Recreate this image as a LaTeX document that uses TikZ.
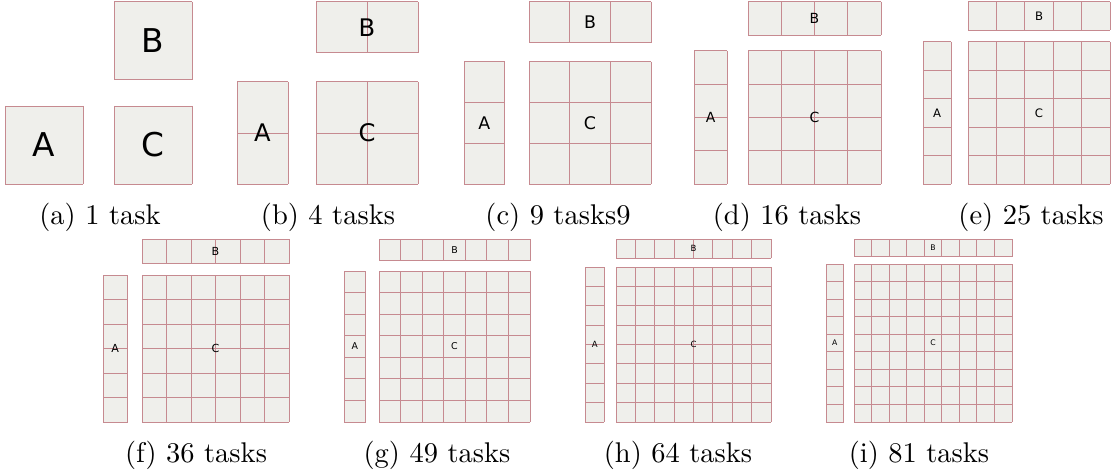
\documentclass[tikz,border=0pt]{standalone}
\usepackage{fontspec}
\newfontfamily\labelfont{DejaVu Sans}
\usetikzlibrary{positioning}
\definecolor{cellfill}{RGB}{239,239,235}
\definecolor{cellline}{RGB}{198,138,144}
\tikzset{
  cellbg/.style={fill=cellfill},
  gridline/.style={draw=cellline,line width=0.35pt},
  every node/.style={font=\normalsize},
}

\begin{document}
\begin{tikzpicture}[x=0.351pt,y=-0.351pt]
  \useasboundingbox (0,0) rectangle (1114,476);
  % n / C left / C bottom / C side / A left / B top / label size / caption
  \foreach \n/\cx/\cb/\s/\ax/\bt/\fs/\capx/\capy/\captext in {
      1/114/184/78/5/2/11.5/100/225/{(a) 1 task},
      2/316/184/102/237/2/8.5/328/225/{(b) 4 tasks},
      3/529/184/122/464/2/6.1/558/225/{(c) 9 tasks9},
      4/748/184/133/694/2/4.9/787/225/{(d) 16 tasks},
      5/968/184/142/923/2/4.1/1031/225/{(e) 25 tasks},
      6/142/422/147/103/239/3.9/196/462/{(f) 36 tasks},
      7/379/422/151/344/239/3.3/437/462/{(g) 49 tasks},
      8/616/422/155/585/239/3.0/678/462/{(h) 64 tasks},
      9/854/422/158/826/239/2.7/919/462/{(i) 81 tasks}} {
    \pgfmathsetmacro{\w}{\s/\n}
    \pgfmathsetmacro{\ct}{\cb-\s}
    % backgrounds of C, A and B
    \fill[cellbg] (\cx,\ct) rectangle +(\s,\s);
    \fill[cellbg] (\ax,\ct) rectangle +(\w,\s);
    \fill[cellbg] (\cx,\bt) rectangle +(\s,\w);
    % block lines
    \foreach \k in {0,...,\n} {
      \draw[gridline] ({\cx+\k*\w},\ct) -- +(0,\s);
      \draw[gridline] (\cx,{\ct+\k*\w}) -- +(\s,0);
      \draw[gridline] (\ax,{\ct+\k*\w}) -- +(\w,0);
      \draw[gridline] ({\cx+\k*\w},\bt) -- +(0,\w);
    }
    \draw[gridline] (\ax,\ct) -- +(0,\s) (\ax+\w,\ct) -- +(0,\s);
    \draw[gridline] (\cx,\bt) -- +(\s,0) (\cx,\bt+\w) -- +(\s,0);
    \node[font=\labelfont\fontsize{\fs}{\fs}\selectfont] (A\n) at ({\ax+\w/2},{\cb-\s/2}) {A};
    \node[font=\labelfont\fontsize{\fs}{\fs}\selectfont] (B\n) at ({\cx+\s/2},{\bt+\w/2}) {B};
    \node[font=\labelfont\fontsize{\fs}{\fs}\selectfont] (C\n) at ({\cx+\s/2},{\cb-\s/2}) {C};
    \node[anchor=base] (cap\n) at (\capx,\capy) {\captext};
  }
\end{tikzpicture}
\end{document}
